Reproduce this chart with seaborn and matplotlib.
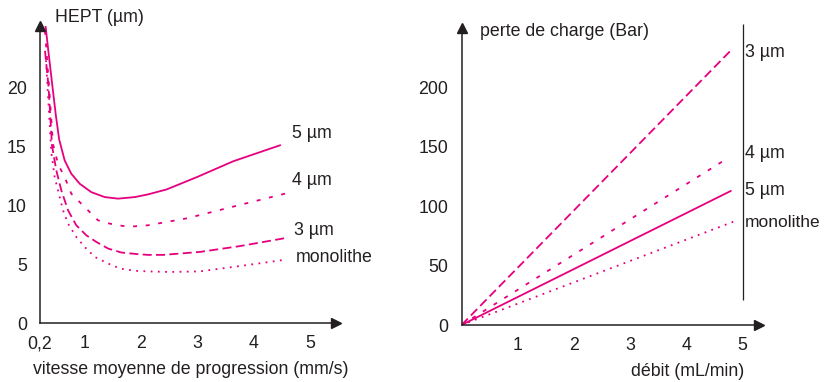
import matplotlib
matplotlib.use("Agg")
import matplotlib.pyplot as plt
import numpy as np
import pandas as pd
import seaborn as sns

MAGENTA = "#E6007E"
INK = "#231F20"

# --- left panel: HEPT vs vitesse moyenne de progression ---
V_5UM = [0.294, 0.36, 0.419, 0.48, 0.54, 0.639, 0.756, 0.906, 1.112, 1.350, 1.587, 1.884, 2.12, 2.45, 2.99, 3.64, 4.47]
H_5UM = [25.4, 22.6, 20.17, 17.7, 15.6, 13.8, 12.68, 11.83, 11.12, 10.7, 10.57, 10.7, 10.93, 11.35, 12.4, 13.75, 15.1]

V_4UM = [0.289, 0.36, 0.431, 0.52, 0.639, 0.756, 0.934, 1.084, 1.231, 1.439, 1.676, 1.884, 2.12, 2.81, 3.64, 4.56]
H_4UM = [24.8, 20.1, 15.2, 13.5, 12.39, 10.99, 10.14, 9.43, 8.73, 8.45, 8.25, 8.22, 8.31, 8.9, 9.9, 11.0]

V_3UM = [0.289, 0.351, 0.413, 0.49, 0.579, 0.698, 0.845, 1.023, 1.201, 1.409, 1.645, 1.942, 2.12, 2.39, 3.04, 3.76, 4.59]
H_3UM = [23.1, 20.1, 15.07, 12.96, 11.27, 9.58, 8.31, 7.46, 6.9, 6.34, 6.0, 5.86, 5.8, 5.8, 6.05, 6.55, 7.25]

V_MONO = [0.307, 0.333, 0.401, 0.461, 0.55, 0.609, 0.698, 0.845, 0.995, 1.172, 1.409, 1.617, 1.884, 2.12, 2.5, 3.04, 3.87, 4.59]
H_MONO = [22.3, 20.1, 14.5, 12.39, 10.7, 9.58, 8.45, 7.32, 6.47, 5.63, 5.07, 4.65, 4.45, 4.4, 4.35, 4.4, 4.93, 5.41]

LEFT_XTICKS = [0.2, 1, 2, 3, 4, 5]
LEFT_XTICKLABELS = ["0,2", "1", "2", "3", "4", "5"]
LEFT_YTICKS = [0, 5, 10, 15, 20]

# --- right panel: perte de charge vs débit ---
DEBIT_END = {"3 µm": 4.79, "4 µm": 4.76, "5 µm": 4.79, "monolithe": 4.88}
PERTE_END = {"3 µm": 230.8, "4 µm": 141.0, "5 µm": 112.7, "monolithe": 87.6}

RIGHT_XTICKS = [1, 2, 3, 4, 5]
RIGHT_YTICKS = [0, 50, 100, 150, 200]

SERIES = ["5 µm", "4 µm", "3 µm", "monolithe"]
DASHES = {"5 µm": "", "4 µm": (2.2, 4.8), "3 µm": (5.0, 2.4), "monolithe": (1.0, 3.0)}

# label anchor points (data coords)
LEFT_LABELS = {"5 µm": (4.67, 16.1), "4 µm": (4.67, 12.1), "3 µm": (4.72, 7.9), "monolithe": (4.75, 5.6)}
RIGHT_LABELS = {"3 µm": (5.04, 229), "4 µm": (5.04, 144), "5 µm": (5.04, 113), "monolithe": (5.04, 86)}

sns.set_style("white")
plt.rcParams["font.family"] = ["Liberation Sans", "DejaVu Sans"]
plt.rcParams["text.color"] = INK
FS = 12.8

left_df = pd.concat([
    pd.DataFrame({"x": V_5UM, "y": H_5UM, "serie": "5 µm"}),
    pd.DataFrame({"x": V_4UM, "y": H_4UM, "serie": "4 µm"}),
    pd.DataFrame({"x": V_3UM, "y": H_3UM, "serie": "3 µm"}),
    pd.DataFrame({"x": V_MONO, "y": H_MONO, "serie": "monolithe"}),
])
right_df = pd.concat([
    pd.DataFrame({"x": [0, DEBIT_END[s]], "y": [0, PERTE_END[s]], "serie": s}) for s in SERIES
])

fig = plt.figure(figsize=(8.24, 3.82), dpi=100)
ax1 = fig.add_axes([40 / 824, 0.1537, 296 / 824, 0.778])
ax2 = fig.add_axes([461.5 / 824, 0.1492, 297.5 / 824, 0.7775])


def style_axis(ax, xlim, ylim):
    ax.set_xlim(*xlim)
    ax.set_ylim(*ylim)
    for side in ["top", "right"]:
        ax.spines[side].set_visible(False)
    for side in ["left", "bottom"]:
        ax.spines[side].set_color(INK)
        ax.spines[side].set_linewidth(1.1)
    ax.tick_params(direction="out", length=4.5, width=1.0, color=INK,
                   labelsize=FS, labelcolor=INK, pad=4)
    ax.tick_params(axis="y", pad=5)
    # arrow heads at the ends of the axes
    ax.plot(1, 0, ">", color=INK, ms=7, transform=ax.transAxes, clip_on=False)
    ax.plot(0, 1, "^", color=INK, ms=7, transform=ax.transAxes, clip_on=False)
    ax.set_xlabel("")
    ax.set_ylabel("")
    ax.grid(False)


sns.lineplot(data=left_df, x="x", y="y", style="serie", style_order=SERIES,
             dashes=DASHES, color=MAGENTA, lw=1.3, legend=False, sort=False,
             estimator=None, ax=ax1)
style_axis(ax1, (0.2, 5.46), (0, 25.2))
ax1.set_xticks(LEFT_XTICKS, LEFT_XTICKLABELS)
ax1.set_yticks(LEFT_YTICKS)
for s, (x, y) in LEFT_LABELS.items():
    ax1.text(x, y, s, fontsize=FS, ha="left", va="center", clip_on=False)

sns.lineplot(data=right_df, x="x", y="y", style="serie", style_order=SERIES,
             dashes=DASHES, color=MAGENTA, lw=1.3, legend=False, sort=False,
             estimator=None, ax=ax2)
style_axis(ax2, (0, 5.29), (0, 249.6))
ax2.set_xticks(RIGHT_XTICKS)
ax2.set_yticks(RIGHT_YTICKS)
ax2.vlines(5, 21, 253, color=INK, lw=0.9, clip_on=False)
for s, (x, y) in RIGHT_LABELS.items():
    ax2.text(x, y, s, fontsize=FS if s != "monolithe" else 12.5,
             ha="left", va="center", clip_on=False)

fig.text(55 / 824, 1 - 17 / 382, "HEPT (µm)", fontsize=FS, ha="left", va="center")
fig.text(191 / 824, 1 - 370 / 382, "vitesse moyenne de progression (mm/s)",
         fontsize=FS, ha="center", va="center")
fig.text(480 / 824, 1 - 31 / 382, "perte de charge (Bar)", fontsize=FS, ha="left", va="center")
fig.text(744 / 824, 1 - 371 / 382, "débit (mL/min)", fontsize=FS, ha="right", va="center")

fig.savefig("out.png", dpi=100, facecolor="white")
